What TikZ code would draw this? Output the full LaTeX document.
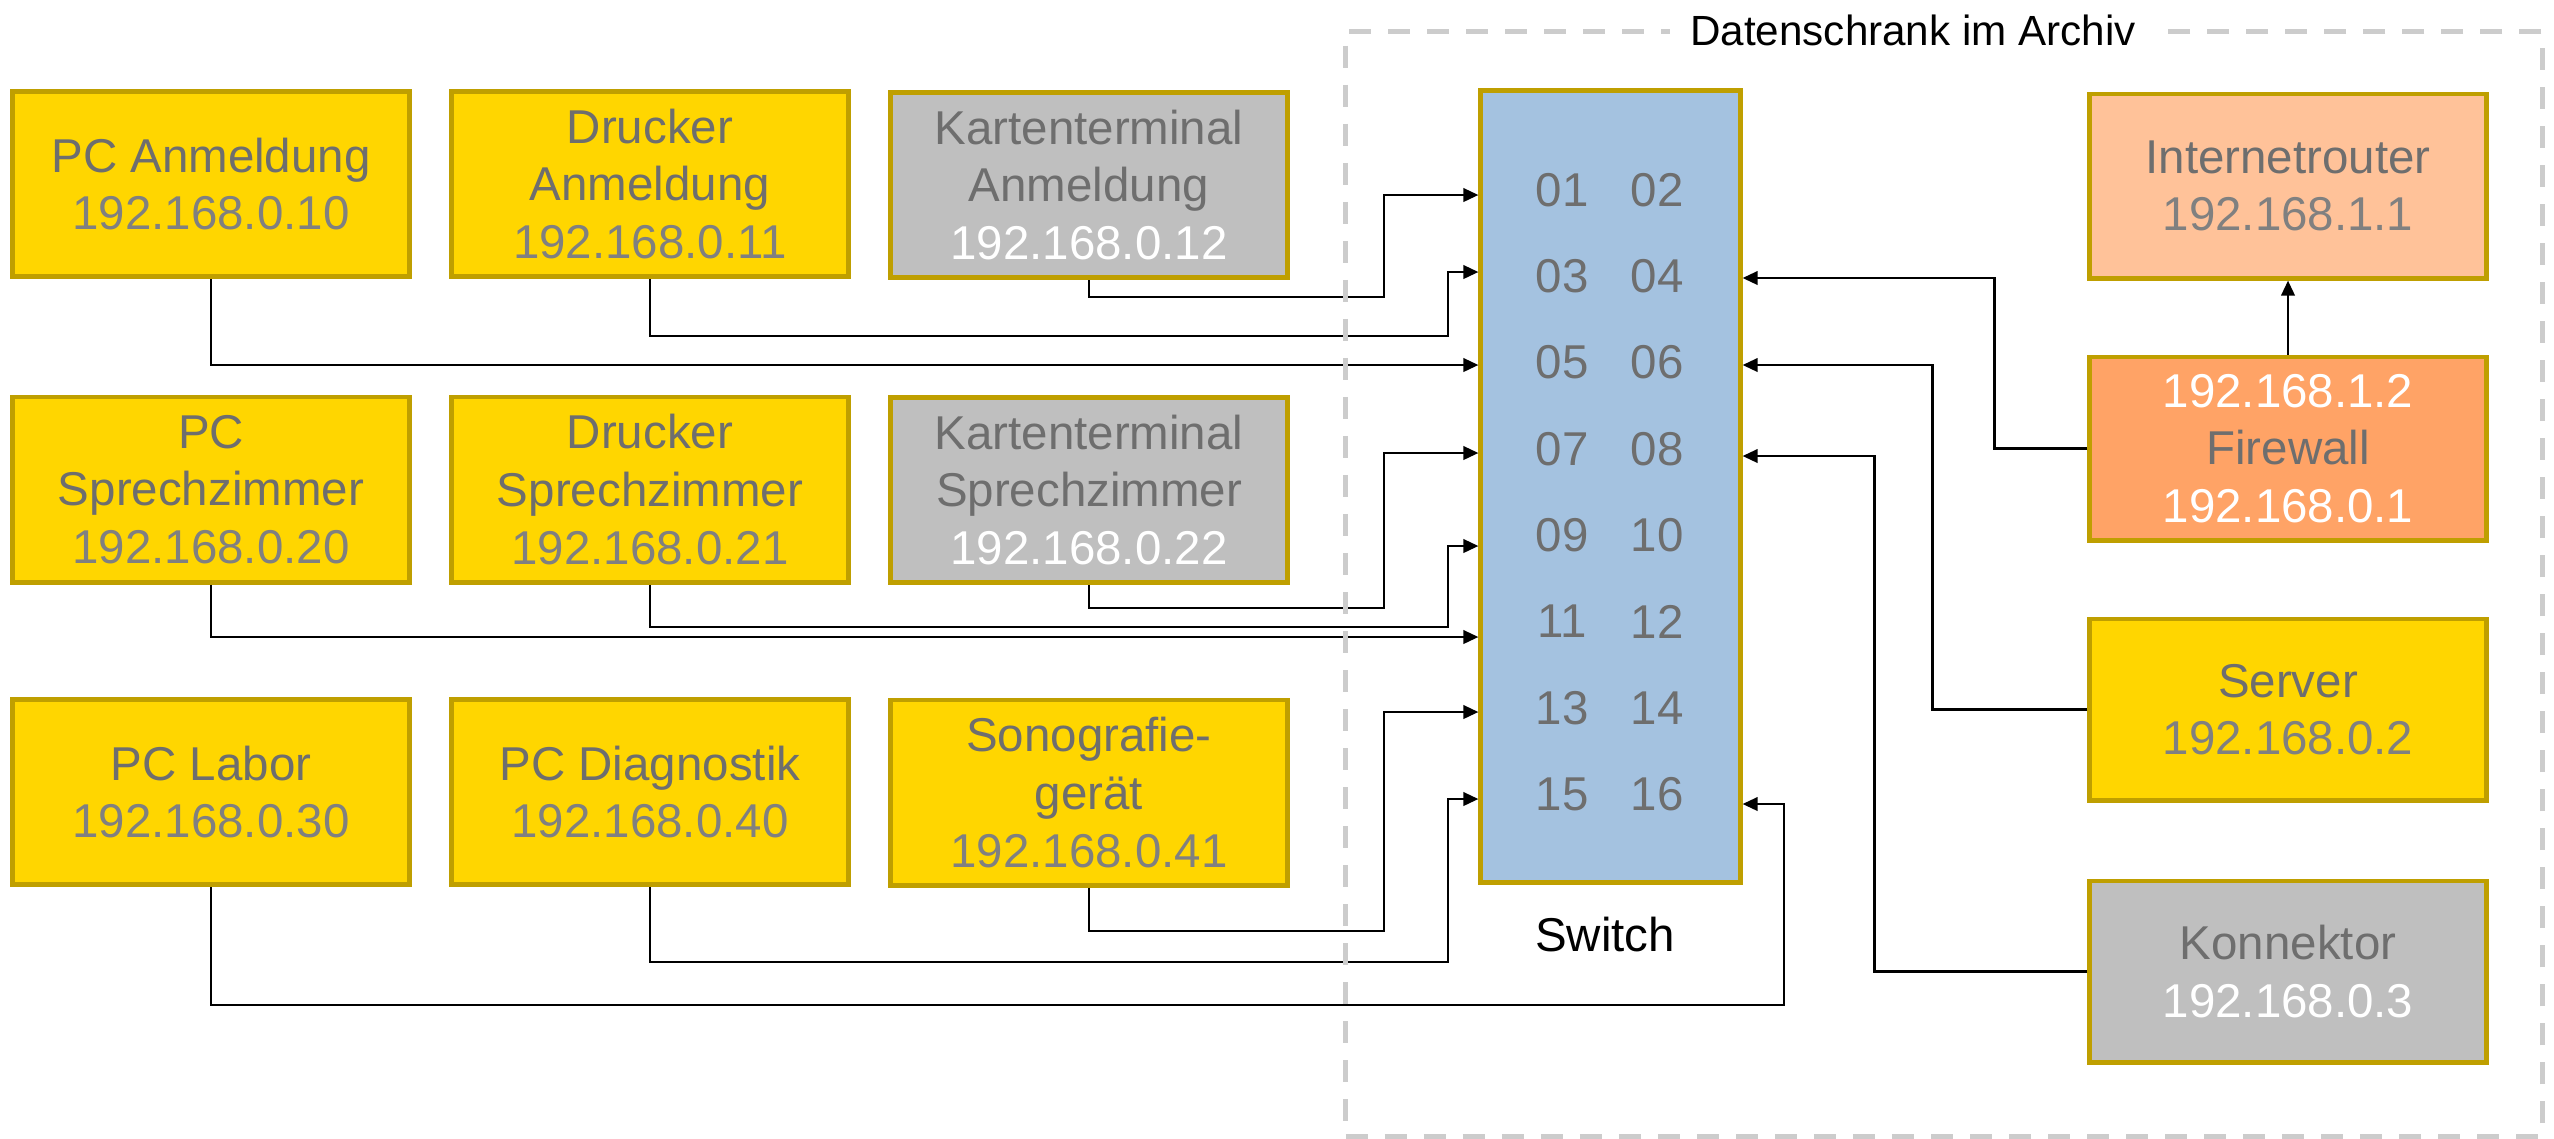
\documentclass[tikz,border=0pt]{standalone}
\usepackage{fontspec}
\setmainfont{Liberation Sans}
\usetikzlibrary{arrows.meta,calc}
\definecolor{boxyellow}{HTML}{FFD600}
\definecolor{boxborder}{HTML}{BF9F00}
\definecolor{boxgrey}{HTML}{BFBFBF}
\definecolor{switchblue}{HTML}{A4C2E0}
\definecolor{routerpeach}{HTML}{FFC299}
\definecolor{fwpeach}{HTML}{FFA366}
\definecolor{tdark}{HTML}{6E6E6E}
\definecolor{ipgrey}{HTML}{808080}
\definecolor{dashgrey}{HTML}{CCCCCC}
\begin{document}
\begin{tikzpicture}[x=0.01cm,y=-0.01cm,
  dev/.style={draw=boxborder, line width=1.4pt, minimum width=3.96cm, minimum height=1.85cm,
    inner sep=0pt, align=center, text=tdark, font=\fontsize{13.5pt}{16.4pt}\selectfont},
  yel/.style={dev, fill=boxyellow},
  gry/.style={dev, fill=boxgrey},
  port/.style={text=tdark, font=\fontsize{13.5pt}{16.4pt}\selectfont, inner sep=0pt},
  conn/.style={line width=0.8pt, -{Triangle[length=4.3pt,width=3.8pt]}},
  lnk/.style={line width=0.8pt}
]
\useasboundingbox (0,0) rectangle (2554,1138);

% left devices
\node[yel] (pcanm) at (211,184) {PC Anmeldung\\\textcolor{ipgrey}{192.168.0.10}};
\node[yel] (druckanm) at (650,184) {Drucker\\Anmeldung\\\textcolor{ipgrey}{192.168.0.11}};
\node[gry] (kartanm) at (1089,185) {Kartenterminal\\Anmeldung\\\textcolor{white}{192.168.0.12}};
\node[yel] (pcspr) at (211,489.5) {PC\\Sprechzimmer\\\textcolor{ipgrey}{192.168.0.20}};
\node[yel] (druckspr) at (650,489.5) {Drucker\\Sprechzimmer\\\textcolor{ipgrey}{192.168.0.21}};
\node[gry] (kartspr) at (1089,490) {Kartenterminal\\Sprechzimmer\\\textcolor{white}{192.168.0.22}};
\node[yel] (pclab) at (211,792) {PC Labor\\\textcolor{ipgrey}{192.168.0.30}};
\node[yel] (pcdiag) at (650,792) {PC Diagnostik\\\textcolor{ipgrey}{192.168.0.40}};
\node[yel] (sono) at (1089,792.5) {Sonografie-\\gerät\\\textcolor{ipgrey}{192.168.0.41}};

% switch
\node[draw=boxborder, fill=switchblue, line width=1.4pt, minimum width=2.59cm, minimum height=7.91cm, inner sep=0pt] (switch) at (1610.5,486.5) {};
\foreach \a/\b [count=\i from 0] in {01/02,03/04,05/06,07/08,09/10,11/12,13/14,15/16}{
  \node[port] (pl\a) at (1562,{190+86.3*\i}) {\a};
  \node[port] (pl\b) at (1657,{190+86.3*\i}) {\b};
}
\node[font=\fontsize{13.5pt}{16.4pt}\selectfont, inner sep=0pt] (swlabel) at (1605,935) {Switch};

% right devices
\node[dev, fill=routerpeach, minimum height=1.84cm] (router) at (2288,186) {Internetrouter\\\textcolor{ipgrey}{192.168.1.1}};
\node[dev, fill=fwpeach, minimum height=1.83cm] (fw) at (2288,448.5) {\textcolor{white}{192.168.1.2}\\Firewall\\\textcolor{white}{192.168.0.1}};
\node[yel, minimum height=1.81cm] (server) at (2288,709.5) {Server\\\textcolor{ipgrey}{192.168.0.2}};
\node[gry, minimum height=1.81cm] (konn) at (2288,971.5) {Konnektor\\\textcolor{white}{192.168.0.3}};

% port coordinates
\coordinate (p01) at (switch.west |- 0,195);
\coordinate (p03) at (switch.west |- 0,272);
\coordinate (p05) at (switch.west |- 0,365);
\coordinate (p07) at (switch.west |- 0,453);
\coordinate (p09) at (switch.west |- 0,546);
\coordinate (p11) at (switch.west |- 0,637);
\coordinate (p13) at (switch.west |- 0,712);
\coordinate (p15) at (switch.west |- 0,799);
\coordinate (p04) at (switch.east |- 0,278);
\coordinate (p06) at (switch.east |- 0,365);
\coordinate (p08) at (switch.east |- 0,456);
\coordinate (p16) at (switch.east |- 0,804);

% connectors
\draw[conn] (pcanm.south) |- (p05);
\draw[conn] (druckanm.south) |- (1448,336) |- (p03);
\draw[conn] (kartanm.south) |- (1384,297) |- (p01);
\draw[conn] (pcspr.south) |- (p11);
\draw[conn] (druckspr.south) |- (1448,627) |- (p09);
\draw[conn] (kartspr.south) |- (1384,608) |- (p07);
\draw[conn] (pclab.south) |- (1784,1005) |- (p16);
\draw[conn] (pcdiag.south) |- (1448,962) |- (p15);
\draw[conn] (sono.south) |- (1384,931) |- (p13);
\draw[conn] (fw.west) -| ($(p04)+(252,0)$) -- (p04);
\draw[conn] (server.west) -| ($(p06)+(190,0)$) -- (p06);
\draw[conn] (konn.west) -| ($(p08)+(132,0)$) -- (p08);
\draw[conn] (fw.north) -- (router.south);

% cabinet
\node[draw=dashgrey, line width=1.4pt, dash pattern=on 0.22cm off 0.17cm, minimum width=11.96cm, minimum height=11.04cm, inner sep=0pt] (cabinet) at (1944,584) {};
\node[fill=white, inner xsep=0.2cm, inner ysep=2pt, font=\fontsize{12pt}{14pt}\selectfont] (title) at (1913,30) {Datenschrank im Archiv};
\end{tikzpicture}
\end{document}
